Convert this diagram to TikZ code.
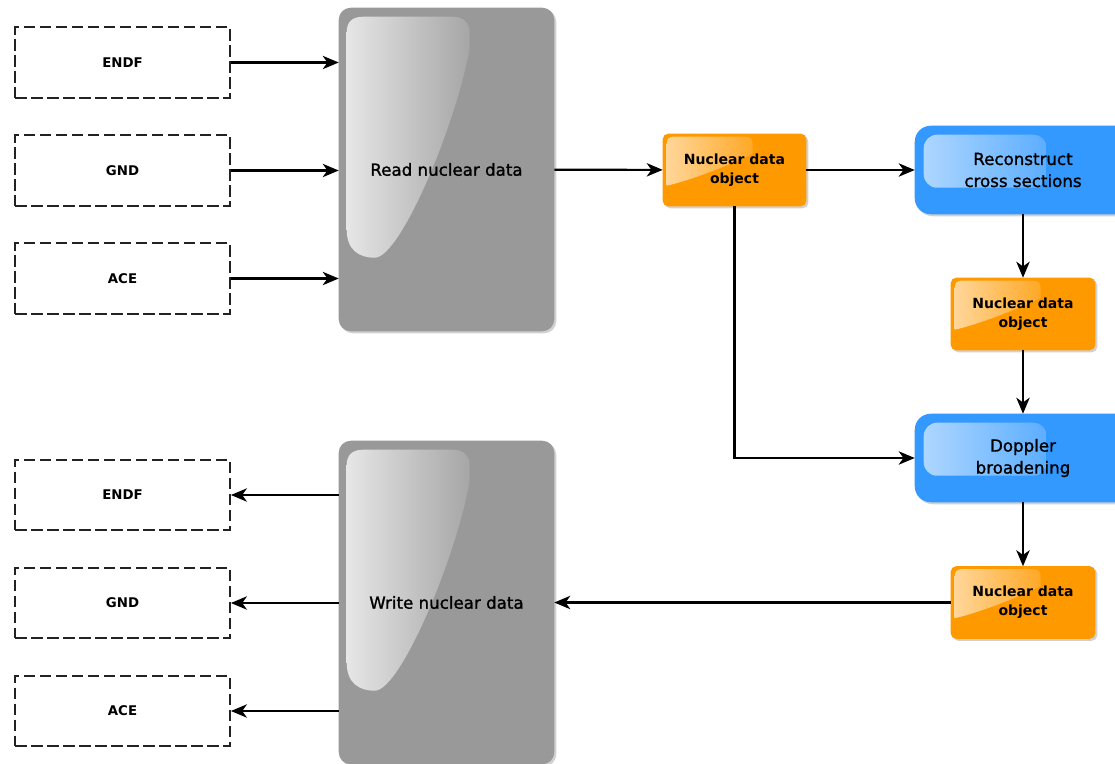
\documentclass[tikz,border=0pt]{standalone}
\usepackage{fontspec}
\setmainfont{DejaVu Sans}
\newfontfamily\semibold[FakeBold=1.2]{DejaVu Sans}
\usetikzlibrary{arrows.meta,backgrounds}
\definecolor{boxgray}{RGB}{153,153,153}
\definecolor{ndorange}{RGB}{255,153,0}
\definecolor{procblue}{RGB}{51,153,255}
\definecolor{dashgray}{RGB}{34,34,34}
\begin{document}
\begin{tikzpicture}[x=0.75pt,y=-0.75pt,every node/.style={align=center,inner sep=0pt}]
        \tikzset{edge/.style = {-{Stealth[length=12pt,width=10pt,inset=3.5pt]},line width=1.6pt}}
        \tikzset{fmt/.style = {draw=dashgray,line width=1.6pt,dash pattern=on 8.5pt off 3.5pt,
            minimum width=161pt,minimum height=53pt,font=\bfseries\fontsize{10}{12}\selectfont}}
        \tikzset{io/.style = {minimum width=161.25pt,minimum height=242.25pt,font=\semibold\fontsize{12.5}{16}\selectfont}}
        \tikzset{ndobj/.style = {minimum width=107.25pt,minimum height=54pt,font=\bfseries\fontsize{10.5}{14}\selectfont}}
        \tikzset{proc/.style = {minimum width=162pt,minimum height=66pt,font=\semibold\fontsize{12.5}{16.5}\selectfont}}
        \tikzset{shadowbox/.style = {black,opacity=0.18}}
        \clip (0,0) rectangle (1115,764);

        % inputs
        \node[fmt] (endfIn) at (122.5,62.5) {ENDF};
        \node[fmt] (gndIn) at (122.5,170.5) {GND};
        \node[fmt] (aceIn) at (122.5,278.5) {ACE};
        \node[io] (read) at (446.5,169.5) {Read nuclear data};

        % processing chain
        \node[ndobj] (nd1) at (734.5,170) {Nuclear data\\object};
        \node[proc] (recon) at (1023,170) {Reconstruct\\cross sections};
        \node[ndobj,minimum width=108pt] (nd2) at (1023,314) {Nuclear data\\object};
        \node[proc] (doppler) at (1023,458) {Doppler\\broadening};
        \node[ndobj,minimum width=108pt] (nd3) at (1023,602.5) {Nuclear data\\object};

        % outputs
        \node[io] (write) at (446.5,602.5) {Write nuclear data};
        \node[fmt] (endfOut) at (122.5,495) {ENDF};
        \node[fmt] (gndOut) at (122.5,603) {GND};
        \node[fmt] (aceOut) at (122.5,711) {ACE};

        % box fills, shadows and glossy highlights
        \begin{scope}[on background layer]
          \foreach \n in {read,write} {
            \fill[shadowbox,rounded corners=9pt] ([shift={(2,2)}]\n.north west) rectangle ([shift={(2,2)}]\n.south east);
            \fill[boxgray,rounded corners=9pt] (\n.north west) rectangle (\n.south east);
            \begin{scope}[shift={(\n.north west)}]
              \shade[left color={rgb,255:red,230;green,230;blue,230},right color={rgb,255:red,166;green,166;blue,166}]
                (8,24) -- (8,222) .. controls (8,242) and (20,250) .. (36,250)
                .. controls (62,250) and (118,115) .. (131,40) -- (131,26)
                .. controls (131,15) and (125,9) .. (114,9) -- (24,9)
                .. controls (14,9) and (8,14) .. (8,24) -- cycle;
            \end{scope}
          }
          \foreach \n in {nd1,nd2,nd3} {
            \fill[shadowbox,rounded corners=4pt] ([shift={(2,2)}]\n.north west) rectangle ([shift={(2,2)}]\n.south east);
            \fill[ndorange,rounded corners=4pt] (\n.north west) rectangle (\n.south east);
            \begin{scope}[shift={(\n.north west)}]
              \shade[left color=ndorange!40!white,right color=ndorange!85!white]
                (4,10) -- (4,52) .. controls (30,46) and (70,30) .. (90,20) -- (90,10)
                .. controls (90,5) and (87,3) .. (82,3) -- (10,3)
                .. controls (6,3) and (4,6) .. (4,10) -- cycle;
            \end{scope}
          }
          \foreach \n in {recon,doppler} {
            \fill[shadowbox,rounded corners=12pt] ([shift={(2,2)}]\n.north west) rectangle ([shift={(2,2)}]\n.south east);
            \fill[procblue,rounded corners=12pt] (\n.north west) rectangle (\n.south east);
            \begin{scope}[shift={(\n.north west)}]
              \shade[left color=procblue!40!white,right color=procblue!80!white,rounded corners=10pt]
                (9,9) rectangle (132,62);
            \end{scope}
          }
        \end{scope}

        \draw[edge] (endfIn) -- (endfIn -| read.west);
        \draw[edge] (gndIn) -- (gndIn -| read.west);
        \draw[edge] (aceIn) -- (aceIn -| read.west);

        \draw[edge] (read) -- (nd1);
        \draw[edge] (nd1) -- (recon);
        \draw[edge] (recon) -- (nd2);
        \draw[edge] (nd2) -- (doppler);
        \draw[edge] (nd1) |- (doppler);
        \draw[edge] (doppler) -- (nd3);
        \draw[edge] (nd3) -- (write);

        \draw[edge] (write.west |- endfOut) -- (endfOut);
        \draw[edge] (write.west |- gndOut) -- (gndOut);
        \draw[edge] (write.west |- aceOut) -- (aceOut);
\end{tikzpicture}
\end{document}
